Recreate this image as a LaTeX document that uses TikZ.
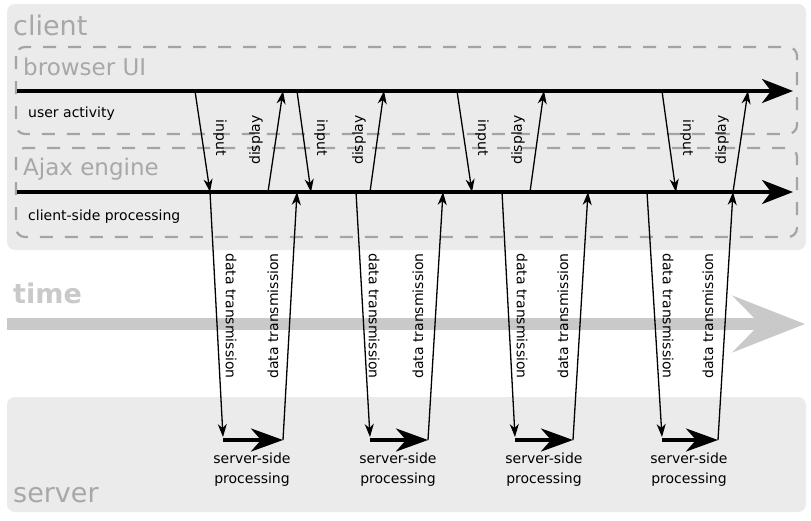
\documentclass[tikz,border=0pt]{standalone}
\usepackage{fontspec}
\setmainfont{DejaVu Sans}
\usetikzlibrary{arrows.meta}

\definecolor{panel}{HTML}{EBEBEB}
\definecolor{dashgrey}{HTML}{A4A4A4}
\definecolor{titlegrey}{HTML}{A8A8A8}
\definecolor{timegrey}{HTML}{C9C9C9}

\tikzset{
    title/.style={text=titlegrey, font=\fontsize{27}{30}\selectfont, anchor=base west, inner sep=0pt},
    lanetitle/.style={title, font=\fontsize{23}{26}\selectfont},
    lbl/.style={font=\fontsize{14}{20}\selectfont, inner sep=0pt},
    lane/.style={draw=dashgrey, line width=2.2pt, dash pattern=on 13pt off 12pt, rounded corners=9pt},
    timeline/.style={line width=3.5pt, -{Stealth[length=31pt, width=24pt, inset=9pt]}},
    msg/.style={line width=1.3pt, -{Stealth[length=13pt, width=9pt, inset=4pt]}},
    work/.style={line width=4pt, -{Stealth[length=32pt, width=23pt, inset=10pt]}}
}

\begin{document}
\begin{tikzpicture}[x=1pt, y=-1pt]
        \useasboundingbox (0,0) rectangle (811,520);

        % Panels
        \fill [panel, rounded corners=8pt] (7,4) rectangle (806,250);
        \fill [panel, rounded corners=8pt] (7,397) rectangle (806,512);
        \draw [lane] (16,47) rectangle (797,134);
        \draw [lane] (16,148) rectangle (797,237);
        \coordinate (time0) at (7,324);
        \coordinate (time1) at (805,324);
        \draw [line width=12pt, timegrey, -{Stealth[length=72pt, width=56pt, inset=27pt]}] (time0) -- (time1);

        % Nodes
        \node (client) [title] at (13,35) {client};
        \node (browser) [lanetitle] at (23,75) {browser UI};
        \node (ajax) [lanetitle] at (23,175) {Ajax engine};
        \node (time) [title, text=timegrey, font=\fontsize{27}{30}\selectfont\bfseries] at (13,303) {time};
        \node (server) [title] at (13,502) {server};
        \node (user) [lbl, anchor=base west] at (28,117) {user activity};
        \node (clientside) [lbl, anchor=base west] at (28,220) {client-side processing};

        \node (in1) [lbl, rotate=-90] at (220,138) {input};
        \node (in2) [lbl, rotate=-90] at (321,138) {input};
        \node (in3) [lbl, rotate=-90] at (482,138) {input};
        \node (in4) [lbl, rotate=-90] at (687,138) {input};
        \node (disp1) [lbl, rotate=90] at (256,140) {display};
        \node (disp2) [lbl, rotate=90] at (359,140) {display};
        \node (disp3) [lbl, rotate=90] at (518,140) {display};
        \node (disp4) [lbl, rotate=90] at (722,140) {display};

        \node (send1) [lbl, rotate=-90] at (231,316) {data transmission};
        \node (send2) [lbl, rotate=-90] at (374,316) {data transmission};
        \node (send3) [lbl, rotate=-90] at (522,316) {data transmission};
        \node (send4) [lbl, rotate=-90] at (668,316) {data transmission};
        \node (back1) [lbl, rotate=90] at (273,316) {data transmission};
        \node (back2) [lbl, rotate=90] at (418,316) {data transmission};
        \node (back3) [lbl, rotate=90] at (563,316) {data transmission};
        \node (back4) [lbl, rotate=90] at (708,316) {data transmission};

        \node (proc1) [lbl, align=center] at (252,470) {server-side\\processing};
        \node (proc2) [lbl, align=center] at (398,470) {server-side\\processing};
        \node (proc3) [lbl, align=center] at (544,470) {server-side\\processing};
        \node (proc4) [lbl, align=center] at (689,470) {server-side\\processing};

        % Ends of the connectors
        \coordinate (user0) at (17,91);      \coordinate (user1) at (793,91);
        \coordinate (cs0) at (17,192);       \coordinate (cs1) at (793,192);

        \coordinate (in1a) at (195,91);      \coordinate (in1b) at (210,192);
        \coordinate (in2a) at (297,91);      \coordinate (in2b) at (311,192);
        \coordinate (in3a) at (457,91);      \coordinate (in3b) at (472,192);
        \coordinate (in4a) at (662,91);      \coordinate (in4b) at (676,192);
        \coordinate (disp1a) at (268,192);   \coordinate (disp1b) at (283,91);
        \coordinate (disp2a) at (370,192);   \coordinate (disp2b) at (384,91);
        \coordinate (disp3a) at (530,192);   \coordinate (disp3b) at (544,91);
        \coordinate (disp4a) at (733,192);   \coordinate (disp4b) at (748,91);

        \coordinate (send1a) at (210,192);   \coordinate (send1b) at (223,437);
        \coordinate (send2a) at (356,192);   \coordinate (send2b) at (370,437);
        \coordinate (send3a) at (502,192);   \coordinate (send3b) at (515,437);
        \coordinate (send4a) at (647,192);   \coordinate (send4b) at (662,437);
        \coordinate (proc1a) at (223,440);   \coordinate (proc1b) at (283,440);
        \coordinate (proc2a) at (370,440);   \coordinate (proc2b) at (428,440);
        \coordinate (proc3a) at (515,440);   \coordinate (proc3b) at (573,440);
        \coordinate (proc4a) at (662,440);   \coordinate (proc4b) at (718,440);
        \coordinate (back1b) at (297,192);   \coordinate (back2b) at (443,192);
        \coordinate (back3b) at (588,192);   \coordinate (back4b) at (733,192);

        % Arrows
        \draw [timeline] (user0) -- (user1);
        \draw [timeline] (cs0) -- (cs1);

        \draw [msg] (in1a) -- (in1b);
        \draw [msg] (in2a) -- (in2b);
        \draw [msg] (in3a) -- (in3b);
        \draw [msg] (in4a) -- (in4b);
        \draw [msg] (disp1a) -- (disp1b);
        \draw [msg] (disp2a) -- (disp2b);
        \draw [msg] (disp3a) -- (disp3b);
        \draw [msg] (disp4a) -- (disp4b);

        \draw [msg] (send1a) -- (send1b);
        \draw [msg] (send2a) -- (send2b);
        \draw [msg] (send3a) -- (send3b);
        \draw [msg] (send4a) -- (send4b);
        \draw [work] (proc1a) -- (proc1b);
        \draw [work] (proc2a) -- (proc2b);
        \draw [work] (proc3a) -- (proc3b);
        \draw [work] (proc4a) -- (proc4b);
        \draw [msg] (proc1b) -- (back1b);
        \draw [msg] (proc2b) -- (back2b);
        \draw [msg] (proc3b) -- (back3b);
        \draw [msg] (proc4b) -- (back4b);

    \end{tikzpicture}
\end{document}
